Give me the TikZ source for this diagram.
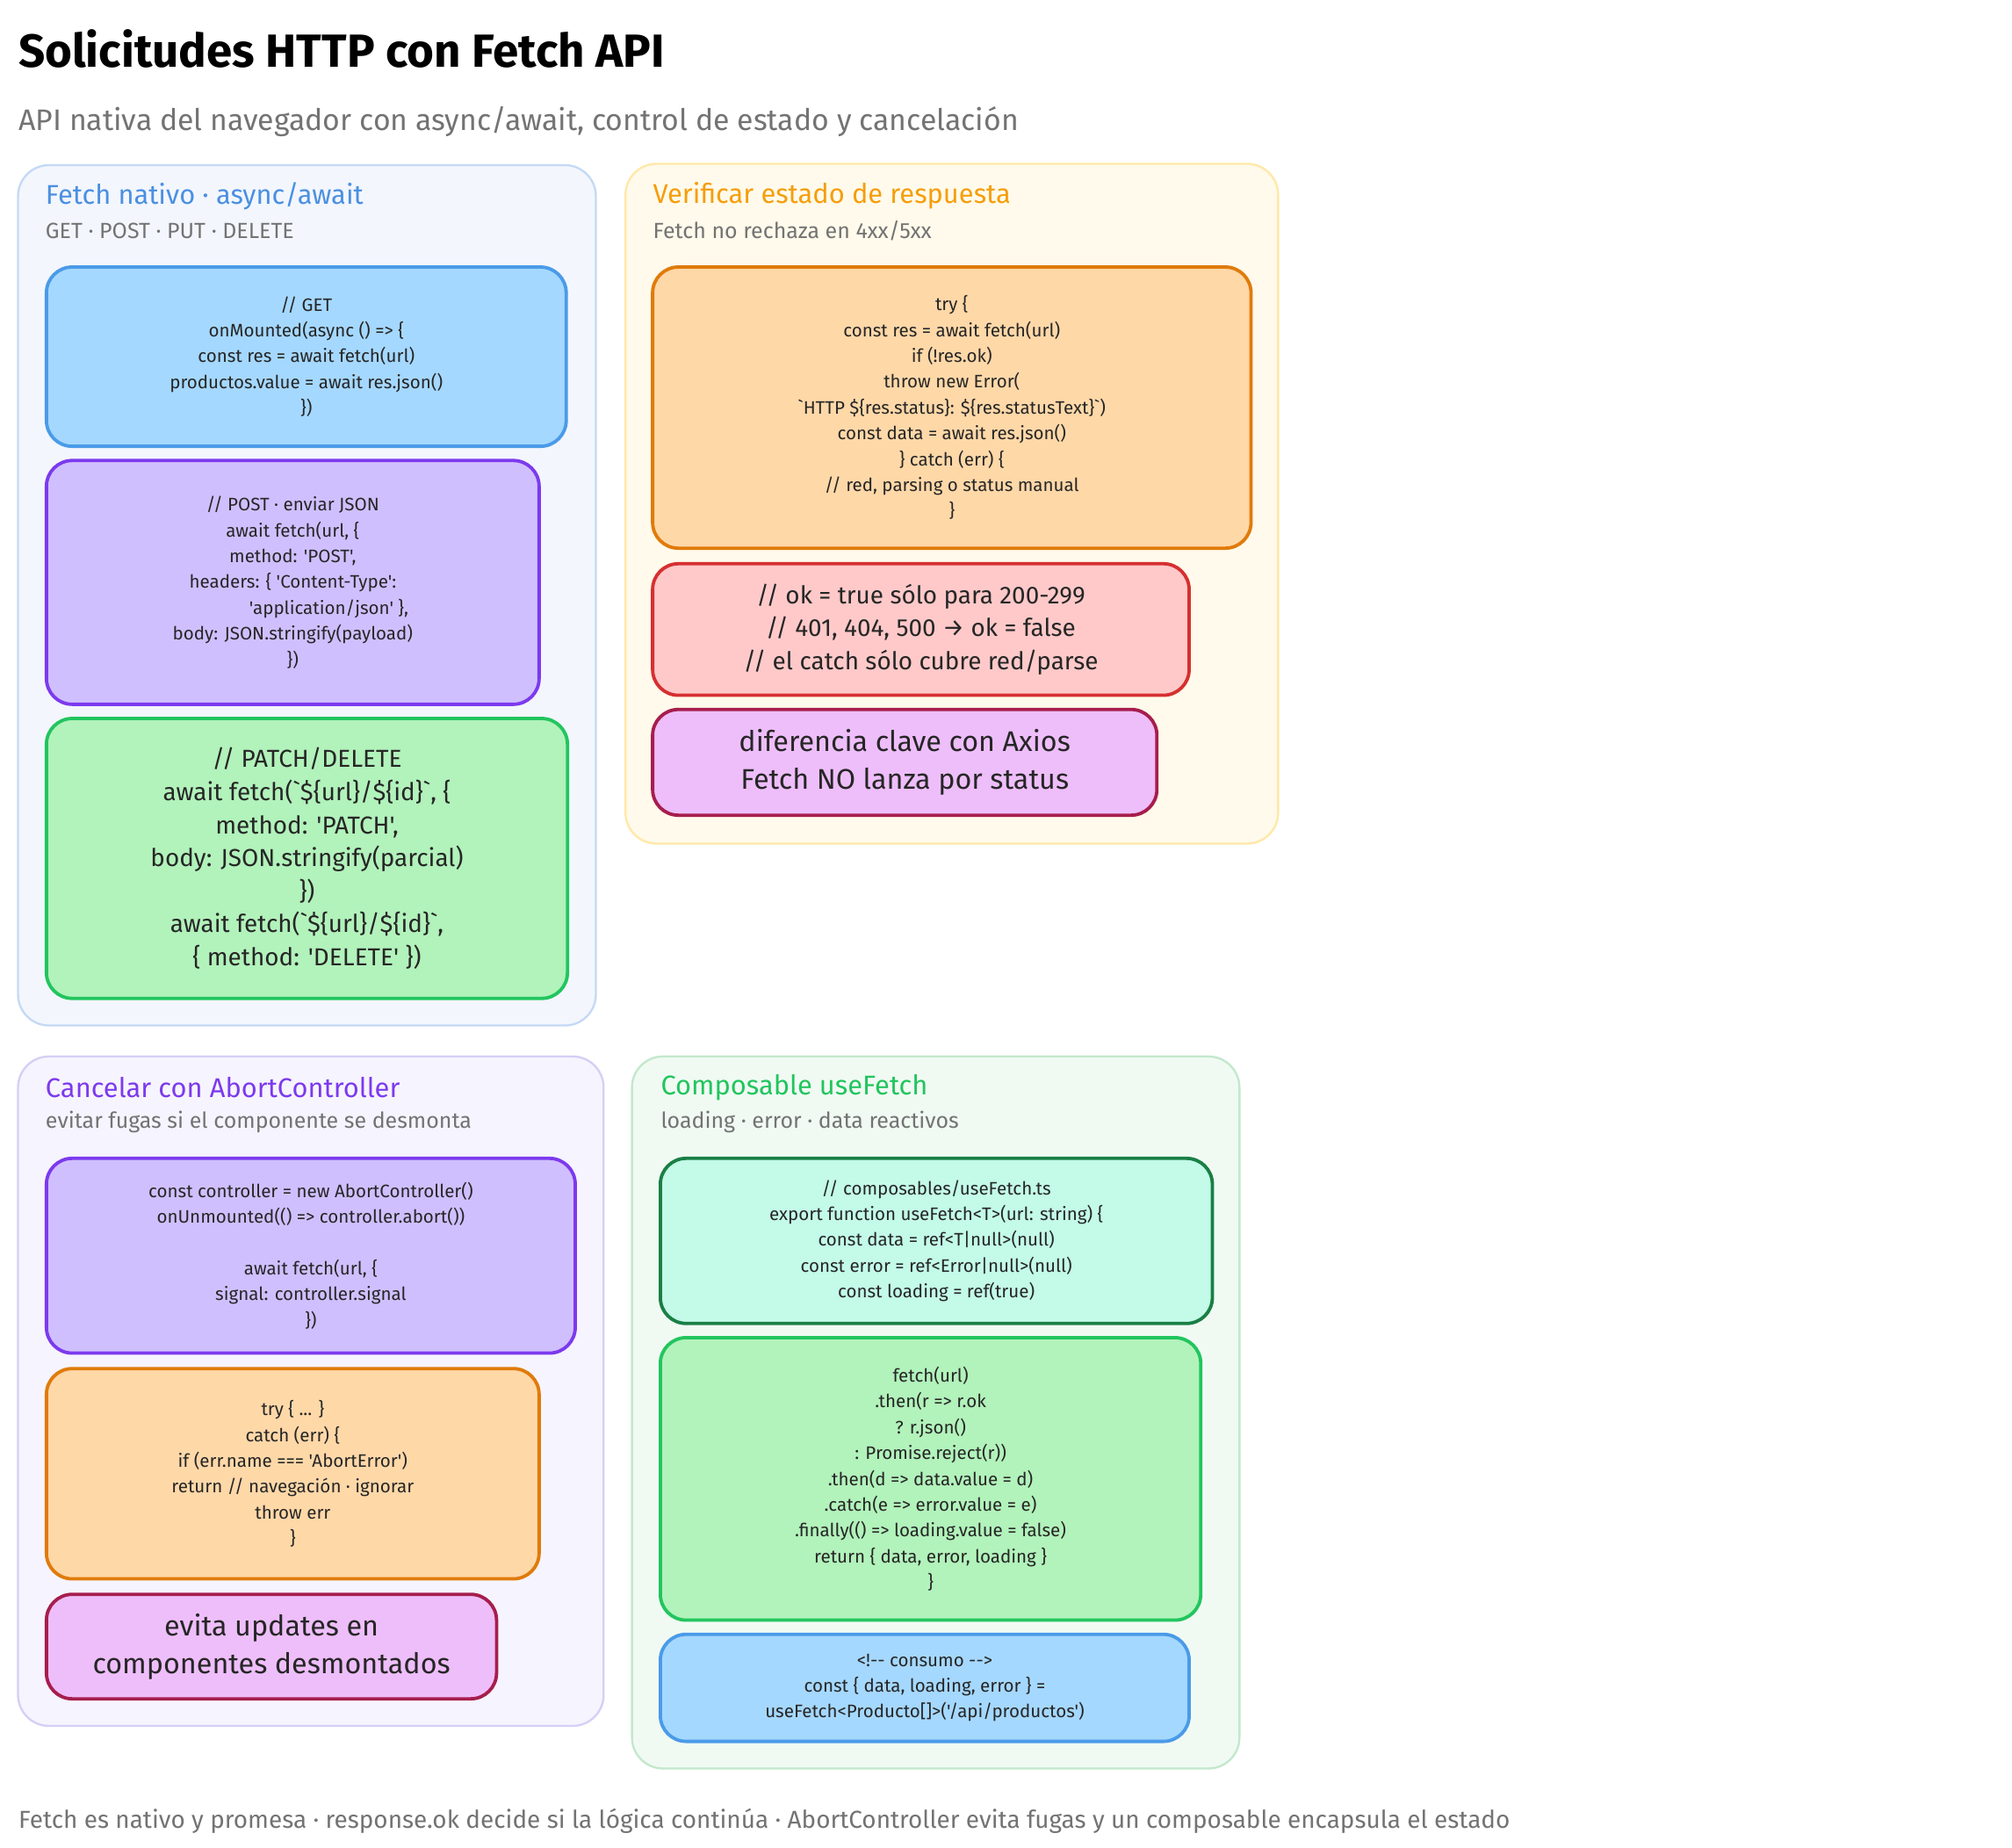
\documentclass[tikz,border=0pt]{standalone}
\usepackage{fontspec}
\newfontfamily\hand{Fira Sans}
\begin{document}
\begin{tikzpicture}[x=0.5pt,y=-0.5pt,
  panel/.style={rounded corners=12pt,line width=0.8pt},
  box/.style={draw,rounded corners=10pt,line width=1.3pt,align=center,inner sep=2pt,text=black!85},
  code/.style={box,font=\hand\fontsize{7}{10}\selectfont},
  mid/.style={box,font=\hand\fontsize{9.5}{12.8}\selectfont},
  big/.style={box,font=\hand\fontsize{11}{14.8}\selectfont},
  ptitle/.style={anchor=west,inner sep=0,font=\hand\fontsize{10.5}{12}\selectfont},
  psub/.style={anchor=west,inner sep=0,text=black!55,font=\hand\fontsize{8.5}{10}\selectfont},
  cblue/.style={fill={rgb,255:red,165;green,216;blue,255},draw={rgb,255:red,74;green,155;blue,232}},
  cpurp/.style={fill={rgb,255:red,208;green,191;blue,255},draw={rgb,255:red,124;green,58;blue,237}},
  cgreen/.style={fill={rgb,255:red,178;green,242;blue,187},draw={rgb,255:red,34;green,197;blue,94}},
  corange/.style={fill={rgb,255:red,255;green,216;blue,168},draw={rgb,255:red,224;green,123;blue,10}},
  cred/.style={fill={rgb,255:red,255;green,201;blue,201},draw={rgb,255:red,214;green,48;blue,49}},
  cpink/.style={fill={rgb,255:red,238;green,190;blue,250},draw={rgb,255:red,166;green,30;blue,77}},
  cteal/.style={fill={rgb,255:red,195;green,250;blue,232},draw={rgb,255:red,26;green,127;blue,69}}]
\useasboundingbox[fill=white] (0,0) rectangle (1560,1432);
\node[anchor=west,inner sep=0,font=\hand\fontsize{18}{20}\selectfont\bfseries] (title) at (14,38) {Solicitudes HTTP con Fetch API};
\node[anchor=west,inner sep=0,text=black!55,font=\hand\fontsize{11.5}{13}\selectfont] (sub) at (14,94) {API nativa del navegador con async/await, control de estado y cancelación};
% panels
\draw[panel,fill={rgb,255:red,243;green,246;blue,253},draw={rgb,255:red,197;green,217;blue,245}] (14,128) rectangle (462,795);
\draw[panel,fill={rgb,255:red,255;green,250;blue,235},draw={rgb,255:red,255;green,232;blue,168}] (485,127) rectangle (991,654);
\draw[panel,fill={rgb,255:red,246;green,244;blue,254},draw={rgb,255:red,214;green,207;blue,245}] (14,819) rectangle (468,1338);
\draw[panel,fill={rgb,255:red,240;green,250;blue,243},draw={rgb,255:red,195;green,232;blue,204}] (490,819) rectangle (961,1371);
\node[ptitle,text={rgb,255:red,74;green,144;blue,226}] (t1) at (35,152) {Fetch nativo · async/await};
\node[psub] (s1) at (35,179) {GET · POST · PUT · DELETE};
\node[ptitle,text={rgb,255:red,245;green,158;blue,11}] (t2) at (506,152) {Verificar estado de respuesta};
\node[psub] (s2) at (506,179) {Fetch no rechaza en 4xx/5xx};
\node[ptitle,text={rgb,255:red,124;green,58;blue,237}] (t3) at (35,843) {Cancelar con AbortController};
\node[psub] (s3) at (35,870) {evitar fugas si el componente se desmonta};
\node[ptitle,text={rgb,255:red,34;green,197;blue,94}] (t4) at (512,843) {Composable useFetch};
\node[psub] (s4) at (512,870) {loading · error · data reactivos};
% boxes
\node[code,cblue,minimum width=201.5pt,minimum height=69.5pt] (get) at (237.5,276.5) {// GET\\onMounted(async () => \{\\const res = await fetch(url)\\productos.value = await res.json()\\\})};
\node[code,cpurp,minimum width=191pt,minimum height=94.5pt] (post) at (227,451.5) {// POST · enviar JSON\\await fetch(url, \{\\method: 'POST',\\headers: \{ 'Content-Type':\\\hspace*{4em}'application/json' \},\\body: JSON.stringify(payload)\\\})};
\node[mid,cgreen,minimum width=202pt,minimum height=108.5pt] (patch) at (238,665.5) {// PATCH/DELETE\\await fetch(`\$\{url\}/\$\{id\}`, \{\\method: 'PATCH',\\body: JSON.stringify(parcial)\\\})\\await fetch(`\$\{url\}/\$\{id\}`,\\\{ method: 'DELETE' \})};
\node[code,corange,minimum width=232pt,minimum height=109pt] (try) at (738,316) {try \{\\const res = await fetch(url)\\if (!res.ok)\\throw new Error(\\`HTTP \$\{res.status\}: \$\{res.statusText\}`)\\const data = await res.json()\\\} catch (err) \{\\// red, parsing o status manual\\\}};
\node[mid,cred,minimum width=208pt,minimum height=51pt] (ok) at (714,488) {// ok = true sólo para 200-299\\// 401, 404, 500 → ok = false\\// el catch sólo cubre red/parse};
\node[big,cpink,minimum width=195.5pt,minimum height=41pt] (dif) at (701.5,591) {diferencia clave con Axios\\Fetch NO lanza por status};
\node[code,cpurp,minimum width=205pt,minimum height=75.5pt] (ab1) at (241,973.5) {const controller = new AbortController()\\onUnmounted(() => controller.abort())\\[10pt]await fetch(url, \{\\signal: controller.signal\\\})};
\node[code,corange,minimum width=191pt,minimum height=81.5pt] (ab2) at (227,1142.5) {try \{ ... \}\\catch (err) \{\\if (err.name === 'AbortError')\\return // navegación · ignorar\\throw err\\\}};
\node[big,cpink,minimum width=174.5pt,minimum height=40.5pt] (ab3) at (210.5,1276.5) {evita updates en\\componentes desmontados};
\node[code,cteal,minimum width=214pt,minimum height=64pt] (uf1) at (726,962) {// composables/useFetch.ts\\export function useFetch<T>(url: string) \{\\const data = ref<T|null>(null)\\const error = ref<Error|null>(null)\\const loading = ref(true)};
\node[code,cgreen,minimum width=209.5pt,minimum height=109.5pt] (uf2) at (721.5,1146.5) {fetch(url)\\.then(r => r.ok\\? r.json()\\: Promise.reject(r))\\.then(d => data.value = d)\\.catch(e => error.value = e)\\.finally(() => loading.value = false)\\return \{ data, error, loading \}\\\}};
\node[code,cblue,minimum width=205pt,minimum height=41.5pt] (uf3) at (717,1308.5) {<!-- consumo -->\\const \{ data, loading, error \} =\\useFetch<Producto[]>('/api/productos')};
\node[anchor=west,inner sep=0,text=black!55,font=\hand\fontsize{9.5}{11}\selectfont] (foot) at (14,1412) {Fetch es nativo y promesa · response.ok decide si la lógica continúa · AbortController evita fugas y un composable encapsula el estado};
\end{tikzpicture}
\end{document}
